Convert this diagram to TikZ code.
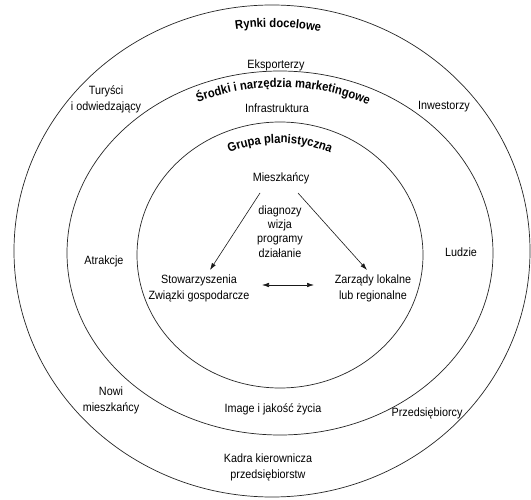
\documentclass[tikz,border=0pt]{standalone}
\usepackage{fontspec}
\setmainfont[FakeStretch=0.9]{Liberation Sans}
\usetikzlibrary{decorations.text,arrows.meta}
\newcommand\ringtitlefont{\fontsize{12.5}{15}\bfseries\selectfont}
\begin{document}
\begin{tikzpicture}[x=1pt,y=1pt,
  ring/.style={draw=black!85,line width=0.7pt},
  lbl/.style={font=\fontsize{12}{16}\selectfont,align=center,inner sep=2pt},
  steps/.style={font=\fontsize{12}{14.3}\selectfont,align=center,inner sep=2pt},
  arr/.style={draw=black!90,line width=0.6pt,-{Latex[length=7pt,width=4.5pt]}},
  arrboth/.style={draw=black!90,line width=0.6pt,{Latex[length=7pt,width=4.5pt]}-{Latex[length=7pt,width=4.5pt]}},
  ringtitle/.style={decorate,decoration={text along path,text align=center,
    text={|\ringtitlefont|#1}}}]
\useasboundingbox (0,0) rectangle (531,499);
\fill[white] (0,0) rectangle (531,499);

% three nested rings
\draw[ring] (272,248) ellipse [x radius=258, y radius=246];
\draw[ring] (280,246) ellipse [x radius=213, y radius=182];
\draw[ring] (280,244) ellipse [x radius=143, y radius=133];

% ring titles set along arcs
\path[ringtitle={Rynki docelowe}]
  ([shift={(272,248)}]118.5:236 and 224) arc[start angle=118.5, end angle=58.5, x radius=236, y radius=224];
\path[ringtitle={Środki i narzędzia marketingowe}]
  ([shift={(280,246)}]134:197 and 166) arc[start angle=134, end angle=44, x radius=197, y radius=166];
\path[ringtitle={Grupa planistyczna}]
  ([shift={(280,244)}]120:122 and 112) arc[start angle=120, end angle=60, x radius=122, y radius=112];

% outer ring: target markets
\node[lbl] (eksp) at (276,434) {Eksporterzy};
\node[lbl] (tur)  at (106,400) {Turyści\\i odwiedzający};
\node[lbl] (inw)  at (444,392) {Inwestorzy};
\node[lbl] (nowi) at (111,98.5) {Nowi\\mieszkańcy};
\node[lbl] (prz)  at (427,86) {Przedsiębiorcy};
\node[lbl] (kadra) at (268,31.5) {Kadra kierownicza\\przedsiębiorstw};

% middle ring: marketing tools
\node[lbl] (infra) at (277,391) {Infrastruktura};
\node[lbl] (atr)   at (104,238) {Atrakcje};
\node[lbl] (ludz)  at (461,247) {Ludzie};
\node[lbl] (img)   at (273,90) {Image i jakość życia};

% inner ring: planning group
\node[lbl] (m) at (281,321) {Mieszkańcy};
\node[steps] (plan) at (280,267.5) {diagnozy\\wizja\\programy\\działanie};
\node[lbl] (s) at (199,210.5) {Stowarzyszenia\\Związki gospodarcze};
\node[lbl] (z) at (373,210.5) {Zarządy lokalne\\lub regionalne};

\draw[arr] ([xshift=-21pt,yshift=-15pt]m.center) -- ([xshift=11pt,yshift=18.5pt]s.center);
\draw[arr] ([xshift=17pt,yshift=-15pt]m.center) -- ([xshift=-6pt,yshift=18.5pt]z.center);
\draw[arrboth] ([xshift=63pt,yshift=3.5pt]s.center) -- ([xshift=-59pt,yshift=3.5pt]z.center);
\end{tikzpicture}
\end{document}
